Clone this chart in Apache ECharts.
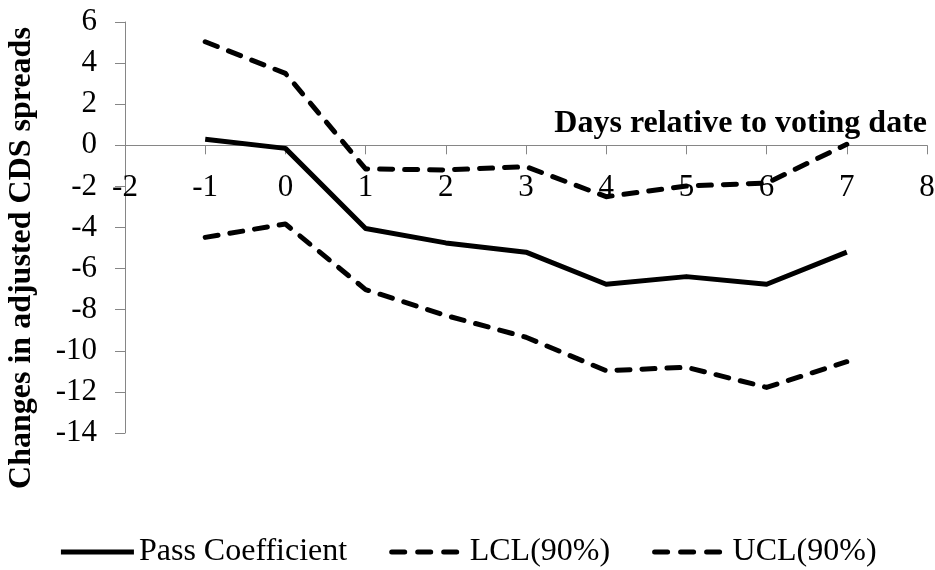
<!DOCTYPE html>
<html>
<head>
<meta charset="utf-8">
<script src="https://cdn.jsdelivr.net/npm/echarts@6/dist/echarts.min.js"></script>
<style>
  html, body { margin: 0; padding: 0; background: #fff; }
  #chart { width: 935px; height: 570px; }
</style>
</head>
<body>
<div id="chart"></div>
<script>
// Event-window estimates: days relative to the vote
const days = [-1, 0, 1, 2, 3, 4, 5, 6, 7];
const passCoef = [0.29, -0.15, -4.05, -4.75, -5.2, -6.76, -6.39, -6.76, -5.2];
const lcl90 = [-4.48, -3.83, -7.02, -8.28, -9.34, -10.97, -10.8, -11.78, -10.53];
const ucl90 = [5.04, 3.5, -1.15, -1.2, -1.04, -2.5, -1.98, -1.84, 0.05];

const seriesNames = ['Pass Coefficient', 'LCL(90%)', 'UCL(90%)'];
const xTitle = 'Days relative to voting date';
const yTitle = 'Changes in adjusted CDS spreads';

const pairs = vals => days.map((d, i) => [d, vals[i]]);
const font = '"Liberation Serif", "Times New Roman", serif';
const axisGray = '#868686';
const dashed = { color: '#000', width: 5, type: [13, 12], cap: 'round', join: 'round' };
const solid = { color: '#000', width: 5, type: 'solid', cap: 'butt', join: 'round' };

// plot box
const gridTop = 22, gridBottom = 137, gridLeft = 125, gridRight = 8;
const plotH = 570 - gridTop - gridBottom;
const yMin = -14, yMax = 6;
// the horizontal axis sits on the zero line of the vertical axis
const xAxisOffset = -plotH * (0 - yMin) / (yMax - yMin);

const chart = echarts.init(document.getElementById('chart'), null, { renderer: 'canvas' });
chart.setOption({
  animation: false,
  backgroundColor: '#fff',
  grid: { left: gridLeft, right: gridRight, top: gridTop, bottom: gridBottom, containLabel: false, outerBoundsMode: 'none' },
  xAxis: {
    type: 'value', min: -2, max: 8, interval: 1,
    position: 'bottom', offset: xAxisOffset,
    name: xTitle, nameLocation: 'end', nameGap: 0,
    nameTextStyle: {
      fontFamily: font, fontWeight: 'bold', fontSize: 32, color: '#000',
      align: 'right', verticalAlign: 'bottom', padding: [0, 0, 6, 0]
    },
    axisLine: { show: true, onZero: false, lineStyle: { color: axisGray, width: 1 } },
    axisTick: { show: true, inside: false, length: 9, lineStyle: { color: axisGray } },
    axisLabel: { fontFamily: font, fontSize: 31, color: '#000', margin: 27, showMinLabel: true, showMaxLabel: true },
    splitLine: { show: false }
  },
  yAxis: {
    type: 'value', min: yMin, max: yMax, interval: 2,
    axisLine: { show: true, onZero: false, lineStyle: { color: axisGray, width: 1 } },
    axisTick: { show: true, inside: false, length: 10, lineStyle: { color: axisGray } },
    axisLabel: { fontFamily: font, fontSize: 31, color: '#000', margin: 28 },
    splitLine: { show: false }
  },
  graphic: [{
    type: 'text', x: 22, y: 258, rotation: Math.PI / 2,
    style: {
      text: yTitle, font: 'bold 32px ' + font, fill: '#000',
      align: 'center', verticalAlign: 'middle'
    }
  }],
  legend: {
    bottom: -3, left: 'center', itemWidth: 73, itemHeight: 14, itemGap: 42,
    itemStyle: { opacity: 0 },
    textStyle: { fontFamily: font, fontSize: 32, color: '#000' },
    data: [
      { name: seriesNames[0], lineStyle: { width: 5, type: 'solid', cap: 'butt' } },
      { name: seriesNames[1], lineStyle: { width: 5, type: [13, 13], cap: 'round' } },
      { name: seriesNames[2], lineStyle: { width: 5, type: [13, 13], cap: 'round' } }
    ]
  },
  series: [
    { name: seriesNames[0], type: 'line', data: pairs(passCoef), symbol: 'none', lineStyle: solid, itemStyle: { color: '#000' } },
    { name: seriesNames[1], type: 'line', data: pairs(lcl90), symbol: 'none', lineStyle: dashed, itemStyle: { color: '#000' } },
    { name: seriesNames[2], type: 'line', data: pairs(ucl90), symbol: 'none', lineStyle: dashed, itemStyle: { color: '#000' } }
  ]
});
</script>
</body>
</html>
